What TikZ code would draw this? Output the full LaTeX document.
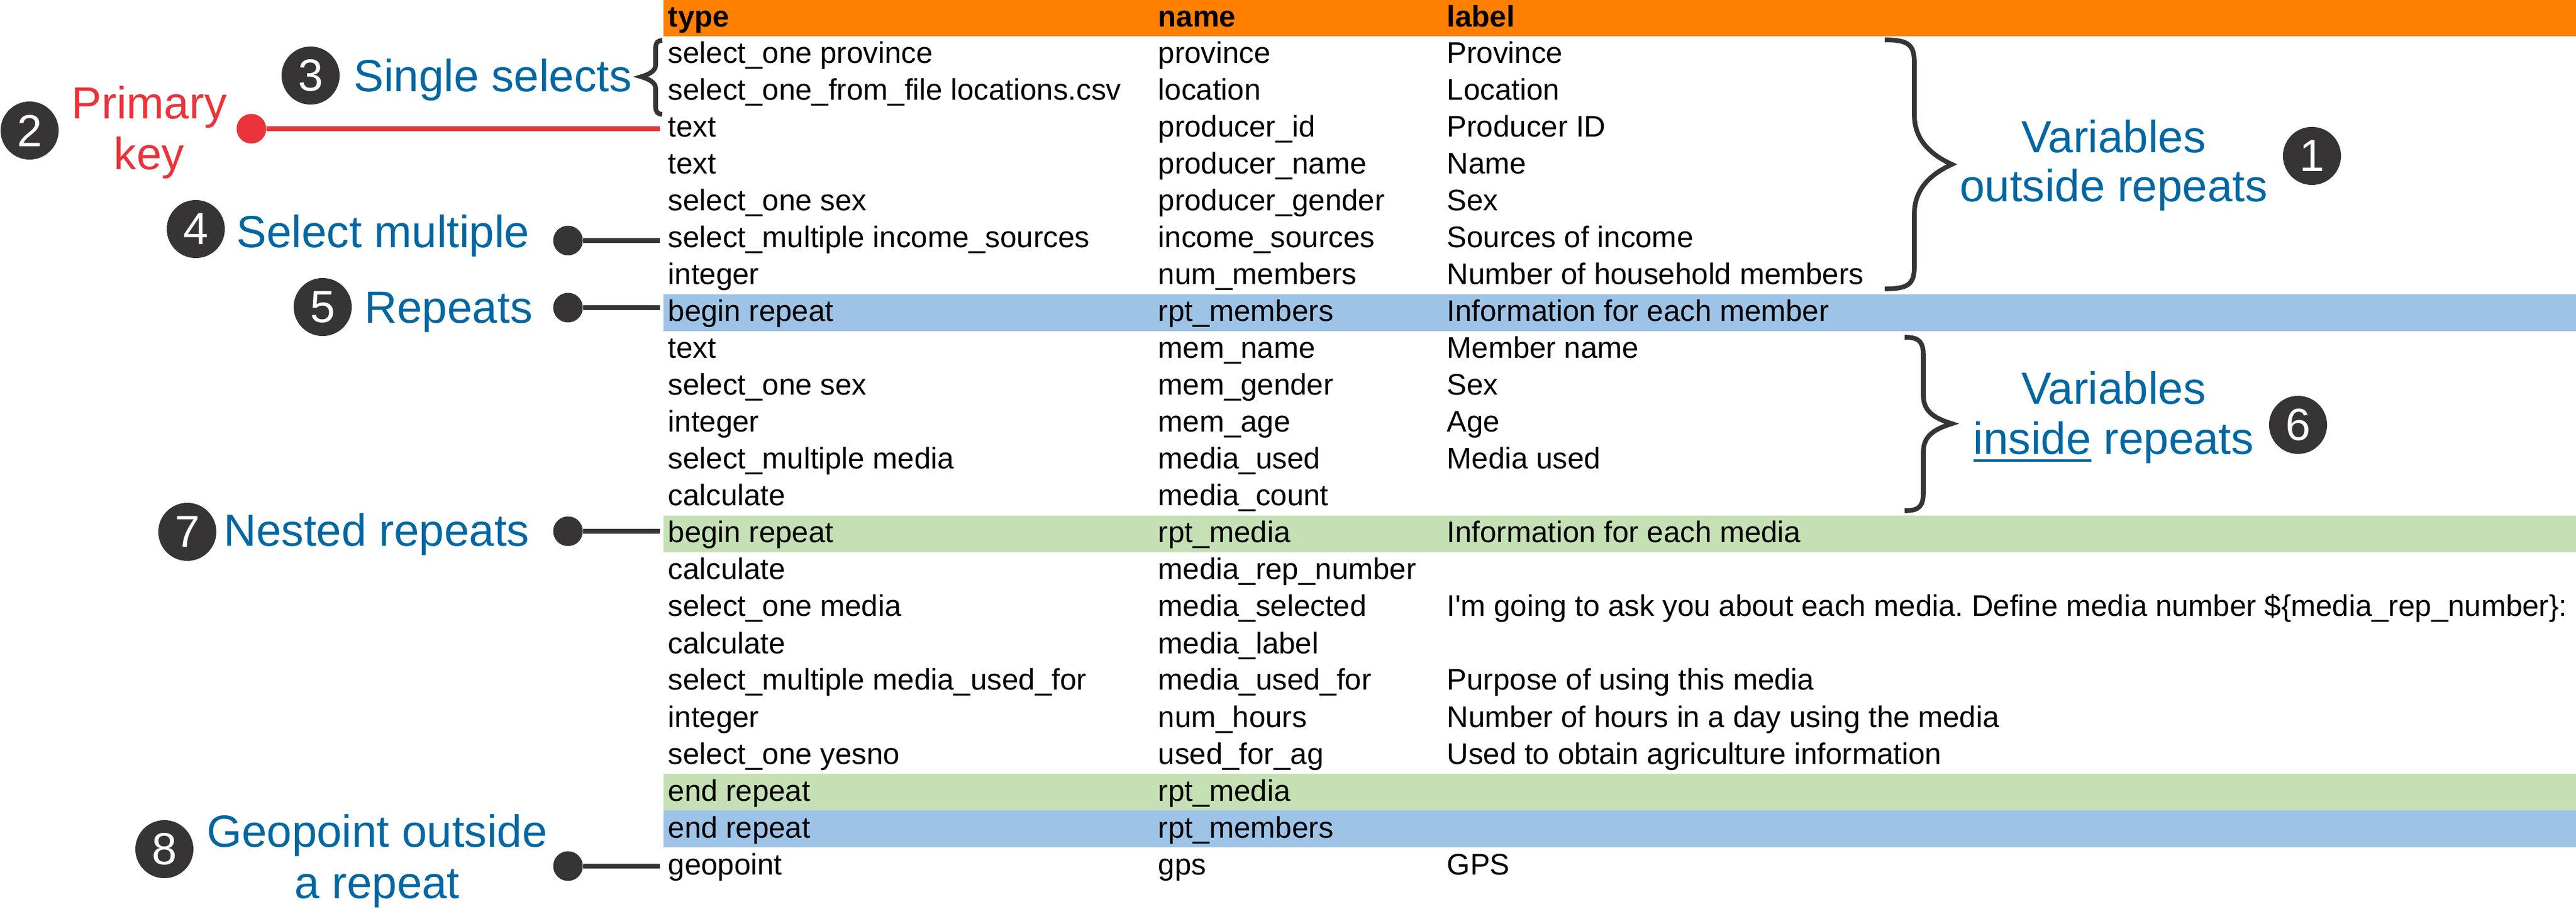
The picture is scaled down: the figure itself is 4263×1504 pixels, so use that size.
\documentclass[tikz,border=0pt]{standalone}
\usepackage{fontspec}
\setmainfont{Liberation Sans}
\definecolor{headorange}{RGB}{255,128,0}
\definecolor{repblue}{RGB}{157,195,230}
\definecolor{repgreen}{RGB}{197,224,180}
\definecolor{noteblue}{RGB}{0,103,163}
\definecolor{keyred}{RGB}{234,51,58}
\definecolor{badgegray}{RGB}{54,52,53}
\newcommand{\ulword}[1]{\setbox0=\hbox{#1}\rlap{\rule[-0.12cm]{\wd0}{0.04cm}}\box0\relax}
\frenchspacing

\begin{document}
\begin{tikzpicture}[x=0.01cm,y=-0.01cm,
  cell/.style={anchor=base west,inner sep=0pt,font=\fontsize{14}{16}\selectfont},
  headcell/.style={cell,font=\fontsize{14}{16}\selectfont\bfseries},
  note/.style={anchor=base west,inner sep=0pt,text=noteblue,font=\fontsize{21.2}{25}\selectfont},
  badge/.style={circle,fill=badgegray,text=white,minimum size=0.96cm,inner sep=0pt,font=\fontsize{21.2}{25}\selectfont},
  pin/.style={circle,fill=badgegray,minimum size=0.49cm,inner sep=0pt},
  pinline/.style={line width=2.5pt,color=badgegray},
  brace/.style={line width=2.2pt,color=badgegray}]
\useasboundingbox (0,0) rectangle (4263,1504);
%coloured rows
\fill [color=headorange] (1098,0) rectangle (4263,60);
\fill [color=repblue] (1098,487) rectangle (4263,548);
\fill [color=repgreen] (1098,853) rectangle (4263,914);
\fill [color=repgreen] (1098,1280) rectangle (4263,1341);
\fill [color=repblue] (1098,1341) rectangle (4263,1402);
%header
\node[headcell] (htype) at (1105,45) {type};
\node[headcell] (hname) at (1916,45) {name};
\node[headcell] (hlabel) at (2394,45) {label};
%rows
\node[cell] (t1) at (1105,105) {select\_one province};
\node[cell] (n1) at (1916,105) {province};
\node[cell] (l1) at (2394,105) {Province};
\node[cell] (t2) at (1105,166) {select\_one\_from\_file locations.csv};
\node[cell] (n2) at (1916,166) {location};
\node[cell] (l2) at (2394,166) {Location};
\node[cell] (t3) at (1105,227) {text};
\node[cell] (n3) at (1916,227) {producer\_id};
\node[cell] (l3) at (2394,227) {Producer ID};
\node[cell] (t4) at (1105,288) {text};
\node[cell] (n4) at (1916,288) {producer\_name};
\node[cell] (l4) at (2394,288) {Name};
\node[cell] (t5) at (1105,349) {select\_one sex};
\node[cell] (n5) at (1916,349) {producer\_gender};
\node[cell] (l5) at (2394,349) {Sex};
\node[cell] (t6) at (1105,410) {select\_multiple income\_sources};
\node[cell] (n6) at (1916,410) {income\_sources};
\node[cell] (l6) at (2394,410) {Sources of income};
\node[cell] (t7) at (1105,471) {integer};
\node[cell] (n7) at (1916,471) {num\_members};
\node[cell] (l7) at (2394,471) {Number of household members};
\node[cell] (t8) at (1105,532) {begin repeat};
\node[cell] (n8) at (1916,532) {rpt\_members};
\node[cell] (l8) at (2394,532) {Information for each member};
\node[cell] (t9) at (1105,593) {text};
\node[cell] (n9) at (1916,593) {mem\_name};
\node[cell] (l9) at (2394,593) {Member name};
\node[cell] (t10) at (1105,654) {select\_one sex};
\node[cell] (n10) at (1916,654) {mem\_gender};
\node[cell] (l10) at (2394,654) {Sex};
\node[cell] (t11) at (1105,715) {integer};
\node[cell] (n11) at (1916,715) {mem\_age};
\node[cell] (l11) at (2394,715) {Age};
\node[cell] (t12) at (1105,776) {select\_multiple media};
\node[cell] (n12) at (1916,776) {media\_used};
\node[cell] (l12) at (2394,776) {Media used};
\node[cell] (t13) at (1105,837) {calculate};
\node[cell] (n13) at (1916,837) {media\_count};
\node[cell] (t14) at (1105,898) {begin repeat};
\node[cell] (n14) at (1916,898) {rpt\_media};
\node[cell] (l14) at (2394,898) {Information for each media};
\node[cell] (t15) at (1105,959) {calculate};
\node[cell] (n15) at (1916,959) {media\_rep\_number};
\node[cell] (t16) at (1105,1020) {select\_one media};
\node[cell] (n16) at (1916,1020) {media\_selected};
\node[cell] (l16) at (2394,1020) {I\textquotesingle m going to ask you about each media. Define media number \$\{media\_rep\_number\}:};
\node[cell] (t17) at (1105,1081) {calculate};
\node[cell] (n17) at (1916,1081) {media\_label};
\node[cell] (t18) at (1105,1142) {select\_multiple media\_used\_for};
\node[cell] (n18) at (1916,1142) {media\_used\_for};
\node[cell] (l18) at (2394,1142) {Purpose of using this media};
\node[cell] (t19) at (1105,1203) {integer};
\node[cell] (n19) at (1916,1203) {num\_hours};
\node[cell] (l19) at (2394,1203) {Number of hours in a day using the media};
\node[cell] (t20) at (1105,1264) {select\_one yesno};
\node[cell] (n20) at (1916,1264) {used\_for\_ag};
\node[cell] (l20) at (2394,1264) {Used to obtain agriculture information};
\node[cell] (t21) at (1105,1325) {end repeat};
\node[cell] (n21) at (1916,1325) {rpt\_media};
\node[cell] (t22) at (1105,1386) {end repeat};
\node[cell] (n22) at (1916,1386) {rpt\_members};
\node[cell] (t23) at (1105,1447) {geopoint};
\node[cell] (n23) at (1916,1447) {gps};
\node[cell] (l23) at (2394,1447) {GPS};
%braces
\draw [brace] (1096,67) .. controls (1088,67) and (1085,71) .. (1085,80) -- (1085,108) .. controls (1085,118) and (1072,124) .. (1061,127) .. controls (1072,130) and (1085,136) .. (1085,146) -- (1085,176) .. controls (1085,185) and (1088,189) .. (1096,189);
\draw [brace] (3119,66) .. controls (3160,66) and (3168,75) .. (3168,105) -- (3168,190) .. controls (3168,235) and (3200,258) .. (3230,272) .. controls (3200,286) and (3168,309) .. (3168,354) -- (3168,440) .. controls (3168,469) and (3160,478) .. (3119,478);
\draw [brace] (3152,558) .. controls (3177,558) and (3183,566) .. (3183,590) -- (3183,655) .. controls (3183,683) and (3205,693) .. (3230,701) .. controls (3205,709) and (3183,719) .. (3183,747) -- (3183,813) .. controls (3183,837) and (3177,845) .. (3152,845);
%notes on the right
\node[note,anchor=base] (var1a) at (3498,253) {Variables};
\node[note,anchor=base] (var1b) at (3498,334) {outside repeats};
\node[badge] (b1) at (3826,258) {1};
\node[note,anchor=base] (var6a) at (3498,669) {Variables};
\node[note,anchor=base] (var6b) at (3498,752) {\ulword{inside} repeats};
\node[badge] (b6) at (3803,703) {6};
%notes on the left
\node[badge] (b2) at (49,216) {2};
\node[note,anchor=base,text=keyred] (key1) at (247,197) {Primary};
\node[note,anchor=base,text=keyred] (key2) at (247,281) {key};
\node[badge] (b3) at (514,125) {3};
\node[note] (single) at (585,152) {Single selects};
\node[badge] (b4) at (324,379) {4};
\node[note] (multi) at (391,410) {Select multiple};
\node[badge] (b5) at (534,508) {5};
\node[note] (rpt) at (603,535) {Repeats};
\node[badge] (b7) at (310,880) {7};
\node[note] (nested) at (370,904) {Nested repeats};
\node[badge] (b8) at (272,1405) {8};
\node[note,anchor=base] (geo1) at (624,1401) {Geopoint outside};
\node[note,anchor=base] (geo2) at (624,1486) {a repeat};
%pins
\node[pin,fill=keyred] (pk) at (416,213) {};
\coordinate (ek) at (1092,213);
\draw [pinline,color=keyred] (pk) -- (ek);
\node[pin] (p4) at (940,398) {};
\coordinate (e4) at (1092,398);
\draw [pinline] (p4) -- (e4);
\node[pin] (p5) at (940,509) {};
\coordinate (e5) at (1092,509);
\draw [pinline] (p5) -- (e5);
\node[pin] (p7) at (940,879) {};
\coordinate (e7) at (1092,879);
\draw [pinline] (p7) -- (e7);
\node[pin] (p8) at (940,1433) {};
\coordinate (e8) at (1092,1433);
\draw [pinline] (p8) -- (e8);
\end{tikzpicture}
\end{document}
